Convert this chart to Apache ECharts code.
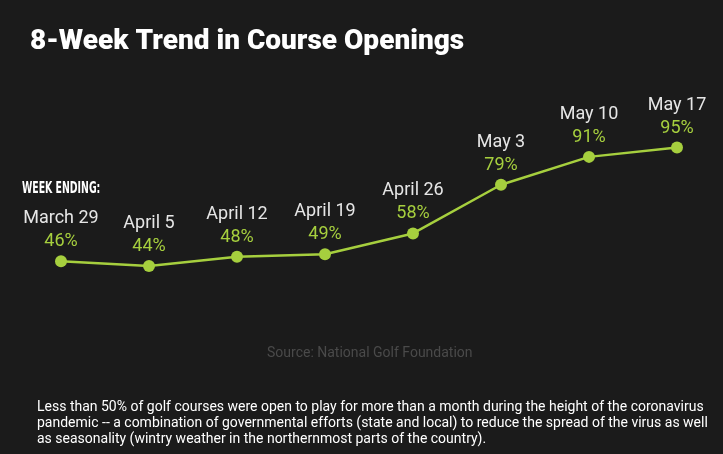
<!DOCTYPE html>
<html>
<head>
<meta charset="utf-8">
<script src="https://cdn.jsdelivr.net/npm/echarts@6/dist/echarts.min.js"></script>
<style>
  html, body { margin: 0; padding: 0; background: #1b1b1b; }
  #main { width: 723px; height: 454px; }
</style>
</head>
<body>
<div id="main"></div>
<script>
// week ending dates and share of courses open (%)
var weeks = ['March 29', 'April 5', 'April 12', 'April 19', 'April 26', 'May 3', 'May 10', 'May 17'];
var openPct = [46, 44, 48, 49, 58, 79, 91, 95];

var chart = echarts.init(document.getElementById('main'));
var lineColor = '#a6cf3e';

chart.setOption({
    backgroundColor: '#1b1b1b',
    animation: false,
    title: {
        text: '8-Week Trend in Course Openings',
        left: 25,
        top: 23,
        textStyle: { color: '#ffffff', fontFamily: 'Roboto', fontWeight: 900, fontSize: 28 }
    },
    grid: { left: 61, width: 616, top: 136, height: 232 },
    xAxis: {
        type: 'category',
        data: weeks,
        boundaryGap: false,
        show: false
    },
    yAxis: {
        type: 'value',
        min: 0,
        max: 100,
        show: false
    },
    series: [{
        type: 'line',
        data: openPct,
        symbol: 'circle',
        symbolSize: 12,
        lineStyle: { color: lineColor, width: 2.5 },
        itemStyle: { color: lineColor },
        label: {
            show: true,
            position: 'top',
            distance: 2,
            formatter: function (p) {
                return '{d|' + weeks[p.dataIndex] + '}\n{v|' + p.value + '%}';
            },
            rich: {
                d: { color: '#e6e6e6', fontFamily: 'Roboto', fontSize: 18, lineHeight: 23 },
                v: { color: lineColor, fontFamily: 'Roboto', fontSize: 18, lineHeight: 23 }
            }
        }
    }],
    graphic: [
        {
            type: 'text', x: 22, y: 181, scaleX: 0.65,
            style: { text: 'WEEK ENDING:', fill: '#ffffff', font: 'bold 16px "DejaVu Sans Condensed"' }
        },
        {
            type: 'text', left: 267, top: 346,
            style: { text: 'Source: National Golf Foundation', fill: '#4a4a4a', font: '14px Roboto' }
        },
        {
            type: 'text', left: 37, top: 399,
            style: {
                text: 'Less than 50% of golf courses were open to play for more than a month during the height of the coronavirus\n' +
                      'pandemic -- a combination of governmental efforts (state and local) to reduce the spread of the virus as well\n' +
                      'as seasonality (wintry weather in the northernmost parts of the country).',
                fill: '#ffffff',
                font: '14px Roboto',
                lineHeight: 16
            }
        }
    ]
});
</script>
</body>
</html>
